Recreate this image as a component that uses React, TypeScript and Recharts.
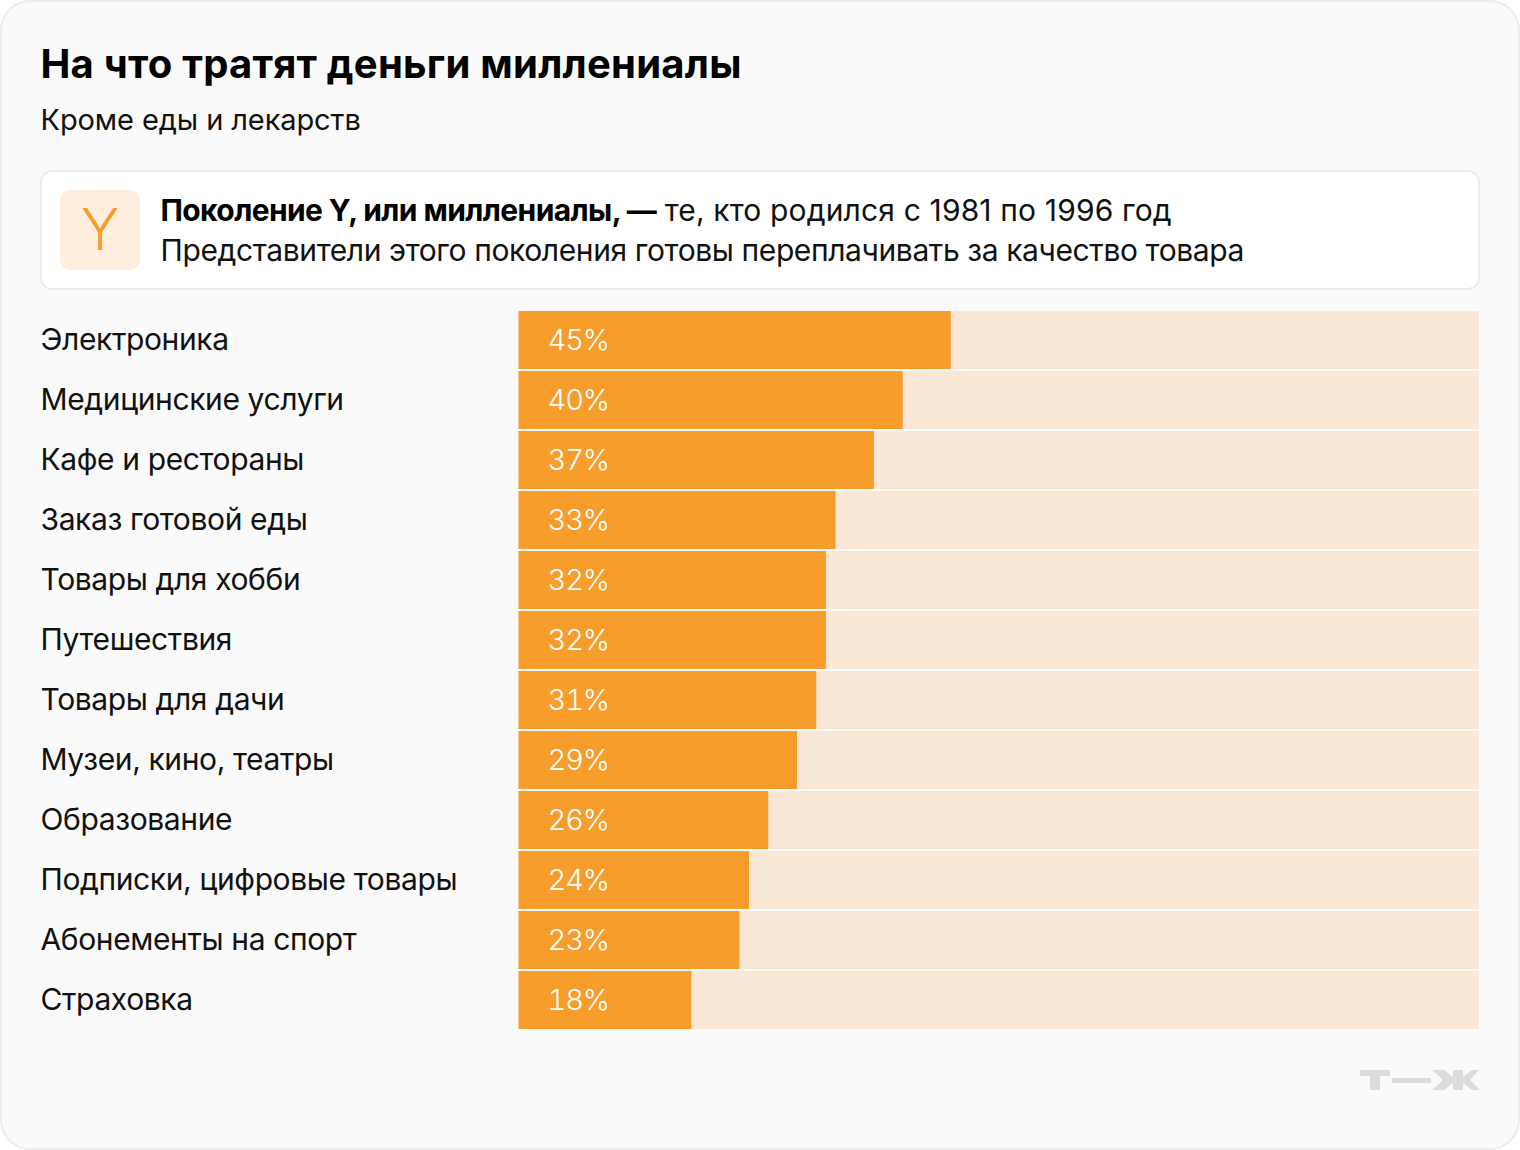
import { Bar, BarChart, LabelList, XAxis, YAxis } from "recharts"

const categories = [
  "Электроника",
  "Медицинские услуги",
  "Кафе и рестораны",
  "Заказ готовой еды",
  "Товары для хобби",
  "Путешествия",
  "Товары для дачи",
  "Музеи, кино, театры",
  "Образование",
  "Подписки, цифровые товары",
  "Абонементы на спорт",
  "Страховка",
]
const shares = [45, 40, 37, 33, 32, 32, 31, 29, 26, 24, 23, 18]

const chartData = categories.map((name, i) => ({ name, share: shares[i] }))

const font = "Inter, sans-serif"

function CategoryTick({ y, payload }: any) {
  return (
    <text x={40.5} y={y} dy={10} textAnchor="start" fontFamily={font} fontSize={30} letterSpacing={-0.38} fill="#111">
      {payload.value}
    </text>
  )
}

export default function App() {
  return (
    <div
      style={{
        position: "absolute",
        left: 0,
        top: 0,
        width: 1520,
        height: 1150,
        boxSizing: "border-box",
        background: "#fafafa",
        border: "2px solid #ececec",
        borderRadius: 30,
        fontFamily: font,
        color: "#000",
        overflow: "hidden",
      }}
    >
      <div style={{ position: "absolute", left: 38.5, top: 38, fontSize: 40, lineHeight: "48px", fontWeight: 700, letterSpacing: 0.24, whiteSpace: "nowrap" }}>
        На что тратят деньги миллениалы
      </div>
      <div style={{ position: "absolute", left: 38.5, top: 100, fontSize: 29, lineHeight: "36px", letterSpacing: -0.1, whiteSpace: "nowrap", color: "#111" }}>
        Кроме еды и лекарств
      </div>

      <div
        style={{
          position: "absolute",
          left: 38,
          top: 168,
          width: 1440,
          height: 120,
          boxSizing: "border-box",
          background: "#fff",
          border: "2px solid #ececec",
          borderRadius: 12,
        }}
      >
        <div
          style={{
            position: "absolute",
            left: 18,
            top: 18,
            width: 80,
            height: 80,
            borderRadius: 10,
            background: "#ffeedd",
            color: "#f79d2c",
            fontSize: 58,
            fontWeight: 350,
            lineHeight: "78px",
            textAlign: "center",
          }}
        >
          Y
        </div>
        <div style={{ position: "absolute", left: 118.5, top: 18, fontSize: 30, lineHeight: "40px", whiteSpace: "nowrap", color: "#111" }}>
          <div>
            <b style={{ color: "#000", letterSpacing: -0.6 }}>Поколение Y, или миллениалы, —</b>
            <span style={{ letterSpacing: 0.15 }}> те, кто родился с 1981 по 1996 год</span>
          </div>
          <div style={{ letterSpacing: -0.39, marginTop: -0.5 }}>Представители этого поколения готовы переплачивать за качество товара</div>
        </div>
      </div>

      <div style={{ position: "absolute", left: -2, top: -2 }}>
        <BarChart
          width={1520}
          height={1150}
          layout="vertical"
          data={chartData}
          margin={{ top: 310, right: 41, bottom: 120, left: 0 }}
        >
          <XAxis type="number" domain={[0, 100]} hide />
          <YAxis
            type="category"
            dataKey="name"
            width={518.5}
            axisLine={false}
            tickLine={false}
            interval={0}
            tick={<CategoryTick />}
          />
          <Bar dataKey="share" barSize={58} fill="#f79d2c" background={{ fill: "#f9e8d5" }} isAnimationActive={false}>
            <LabelList
              dataKey="share"
              position="insideLeft"
              offset={29}
              formatter={(v: any) => `${v}%`}
              style={{
                fontFamily: font,
                fontSize: 29,
                fontWeight: 350,
                letterSpacing: -1.1,
                fontVariantNumeric: "tabular-nums",
                fill: "#fff",
              }}
            />
          </Bar>
        </BarChart>
      </div>

      <svg style={{ position: "absolute", left: 1358, top: 1068 }} width={120} height={22} viewBox="0 0 120 22">
        <g fill="#dcdcdc">
          <path d="M0 0H30V6H20V20H10V6H0Z" />
          <path d="M32 8H71V13H32Z" />
          <path d="M72 0H84L93 7V0H103V7L112 0H119L110 10L120 20H112L103 13V20H93V13L84 20H72L83 10Z" />
        </g>
      </svg>
    </div>
  )
}
